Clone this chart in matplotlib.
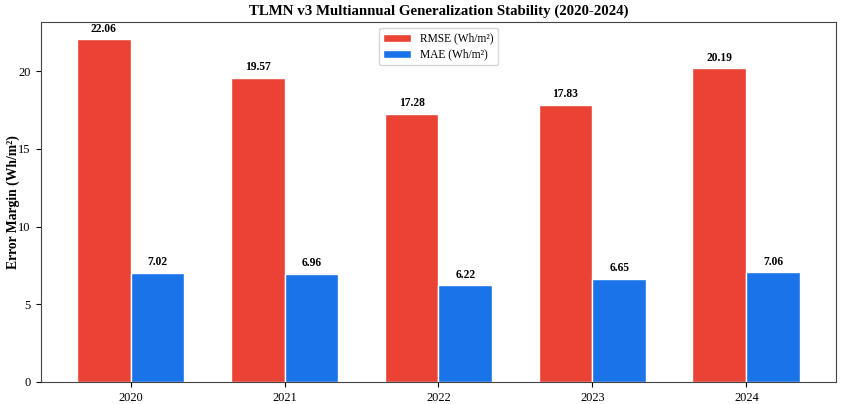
import numpy as np
import matplotlib.pyplot as plt

plt.rcParams['font.family'] = ['Liberation Serif', 'DejaVu Serif']

years = ['2020', '2021', '2022', '2023', '2024']
rmse = [22.06, 19.57, 17.28, 17.83, 20.19]
mae = [7.02, 6.96, 6.22, 6.65, 7.06]

x = np.arange(len(years))
w = 0.35

fig, ax = plt.subplots(figsize=(8.44, 4.04), dpi=100)
fig.subplots_adjust(left=0.048, right=0.991, top=0.945, bottom=0.055)

b1 = ax.bar(x - w/2, rmse, w, color='#EA4335', edgecolor='white', linewidth=1, label='RMSE (Wh/m²)')
b2 = ax.bar(x + w/2, mae, w, color='#1A73E8', edgecolor='white', linewidth=1, label='MAE (Wh/m²)')

for bars in (b1, b2):
    for b in bars:
        h = b.get_height()
        ax.text(b.get_x() + b.get_width()/2, h + 0.3, f'{h:.2f}',
                ha='center', va='bottom', fontsize=8.3, fontweight='bold')

ax.set_xticks(x)
ax.set_xticklabels(years)
ax.set_ylabel('Error Margin (Wh/m²)', fontsize=9.8, fontweight='bold', labelpad=-1)
ax.set_title('TLMN v3 Multiannual Generalization Stability (2020-2024)', fontsize=10.7, fontweight='bold', pad=5)
ax.legend(loc='upper center', fontsize=8.3, handlelength=2.4, labelspacing=0.35)
ax.tick_params(labelsize=8.9)
for s in ax.spines.values():
    s.set_color('#444444')

plt.savefig('out.png', dpi=100)
